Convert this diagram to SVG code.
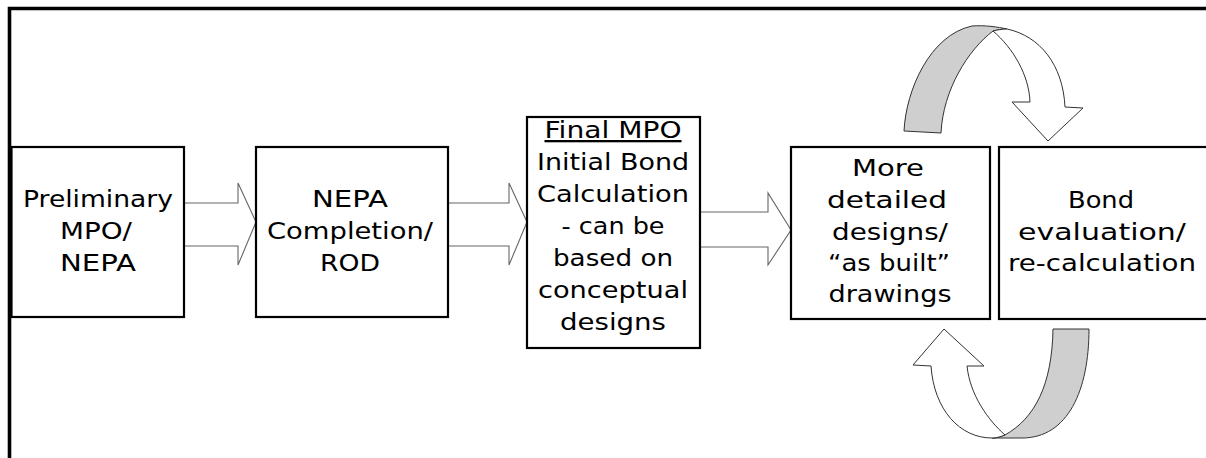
<svg xmlns="http://www.w3.org/2000/svg" width="1206" height="458" viewBox="0 0 1206 458">
  <style>
    .box { fill: #ffffff; stroke: #000000; stroke-width: 2.2; }
    .blk { fill: #ffffff; stroke: #666666; stroke-width: 1.1; stroke-linejoin: miter; }
    .cw { fill: #ffffff; stroke: #333333; stroke-width: 1; stroke-linejoin: round; }
    .cg { fill: #cfcfcf; stroke: #333333; stroke-width: 1; stroke-linejoin: round; }
    text { font-family: "DejaVu Sans", "Liberation Sans", sans-serif; font-size: 23px; fill: #000000; text-anchor: middle; }
  </style>
  <rect x="0" y="0" width="1206" height="458" fill="#ffffff"/>
  <path d="M9.5,458 V8.5 H1206" fill="none" stroke="#000000" stroke-width="3.6"/>

  <g id="connectors">
    <path class="blk" d="M184,203 H238 V183 L256,222 L238,265 V246 H184 Z"/>
    <path class="blk" d="M448,203 H509 V183 L527,222 L509,265 V246 H448 Z"/>
    <path class="blk" d="M700,212 H768 V193 L791,230 L768,265 V247 H700 Z"/>
    <g id="loop-top">
      <path class="cg" d="M904,131 C906,90 930,35 972,26 C985,25 998,27 1007,29 C1002,29 997,30 993,31 C968,50 943,90 941,133 Z"/>
      <path class="cw" d="M993,31 C997,30 1002,29 1007,29 C1040,36 1063,65 1065,107 L1083,108 L1048,141 L1012,102 L1030,102 C1029,75 1013,48 993,31 Z"/>
    </g>
    <g id="loop-bottom">
      <path class="cg" d="M1053,329 L1089,329 C1089,390 1068,438 1022,438 L992,438 C996,438 1000,437 1005,435 C1035,418 1052,385 1053,329 Z"/>
      <path class="cw" d="M1005,435 C988,420 970,395 967,366 L984,366 L944,329 L913,365 L931,366 C934,410 960,438 992,438 C996,438 1000,437 1005,435 Z"/>
    </g>
  </g>

  <g id="node-preliminary">
    <rect class="box" x="11.5" y="147" width="172.5" height="170"/>
    <text x="98" y="207" textLength="150" lengthAdjust="spacingAndGlyphs">Preliminary</text>
    <text x="96" y="239" textLength="72" lengthAdjust="spacingAndGlyphs">MPO/</text>
    <text x="98" y="271" textLength="76" lengthAdjust="spacingAndGlyphs">NEPA</text>
  </g>

  <g id="node-nepa">
    <rect class="box" x="256" y="147" width="192" height="170"/>
    <text x="350" y="207" textLength="76" lengthAdjust="spacingAndGlyphs">NEPA</text>
    <text x="350" y="239" textLength="166" lengthAdjust="spacingAndGlyphs">Completion/</text>
    <text x="350" y="271" textLength="60" lengthAdjust="spacingAndGlyphs">ROD</text>
  </g>

  <g id="node-final">
    <rect class="box" x="527" y="117" width="173" height="231"/>
    <text x="613" y="138" textLength="137" lengthAdjust="spacingAndGlyphs" text-decoration="underline">Final MPO</text>
    <text x="613" y="170" textLength="152" lengthAdjust="spacingAndGlyphs">Initial Bond</text>
    <text x="613" y="202" textLength="152" lengthAdjust="spacingAndGlyphs">Calculation</text>
    <text x="613" y="234" textLength="103" lengthAdjust="spacingAndGlyphs">- can be</text>
    <text x="613" y="266" textLength="120" lengthAdjust="spacingAndGlyphs">based on</text>
    <text x="613" y="298" textLength="150" lengthAdjust="spacingAndGlyphs">conceptual</text>
    <text x="613" y="330" textLength="106" lengthAdjust="spacingAndGlyphs">designs</text>
  </g>

  <g id="node-detailed">
    <rect class="box" x="791" y="147" width="199" height="172"/>
    <text x="888" y="176" textLength="72" lengthAdjust="spacingAndGlyphs">More</text>
    <text x="887" y="208" textLength="120" lengthAdjust="spacingAndGlyphs">detailed</text>
    <text x="890" y="240" textLength="116" lengthAdjust="spacingAndGlyphs">designs/</text>
    <text x="889" y="271" textLength="122" lengthAdjust="spacingAndGlyphs">“as built”</text>
    <text x="890" y="302" textLength="123" lengthAdjust="spacingAndGlyphs">drawings</text>
  </g>

  <g id="node-bond">
    <rect class="box" x="999" y="147" width="220" height="172"/>
    <text x="1101" y="208" textLength="66" lengthAdjust="spacingAndGlyphs">Bond</text>
    <text x="1102" y="240" textLength="168" lengthAdjust="spacingAndGlyphs">evaluation/</text>
    <text x="1102" y="271" textLength="188" lengthAdjust="spacingAndGlyphs">re-calculation</text>
  </g>
</svg>
